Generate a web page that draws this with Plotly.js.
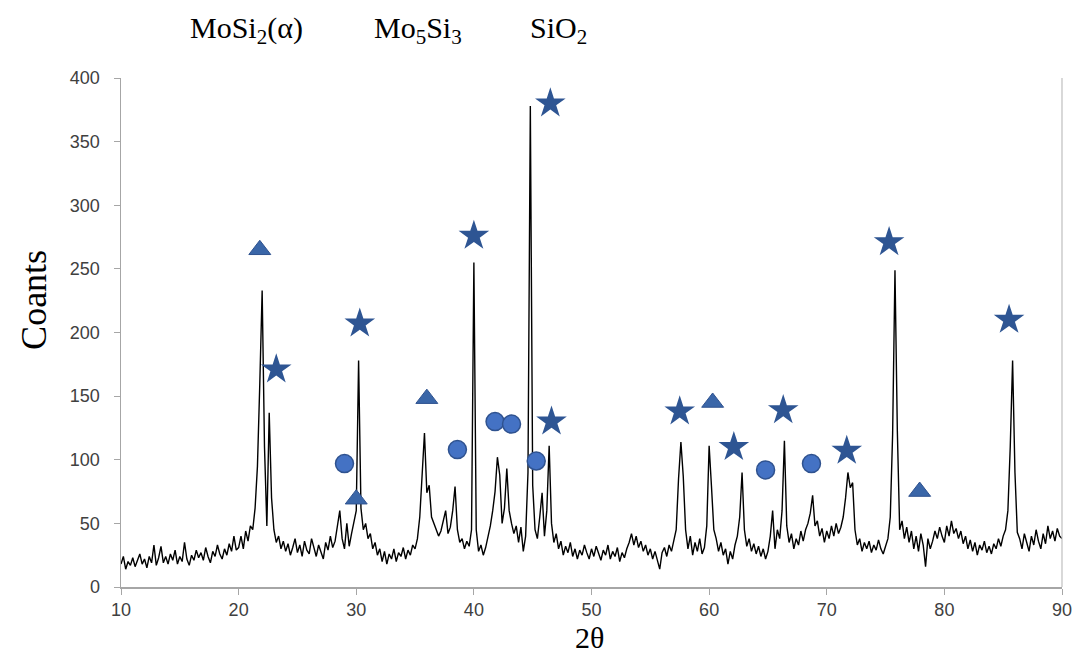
<!DOCTYPE html>
<html>
<head>
<meta charset="utf-8">
<script src="https://cdn.plot.ly/plotly-3.0.1.min.js"></script>
<style>html,body{margin:0;padding:0;background:#fff;}#chart{width:1078px;height:660px;}</style>
</head>
<body>
<div id="chart"></div>
<script>
// XRD scan: 2θ from 10 to 90 in 0.2° steps
const twoThetaStart = 10;
const twoThetaStep = 0.2;
const counts = [
  // 10.0 - 19.8
  18,24,14,20,17,23,16,21,26,18, 22,15,24,19,33,17,23,32,19,24,
  18,26,21,29,18,24,20,35,22,17, 25,21,29,23,27,21,31,24,19,28,
  24,33,26,22,30,25,34,28,40,29,
  // 20.0 - 29.8
  31,40,30,44,36,48,45,62,95,160, 233,110,48,137,70,45,35,40,30,36,
  28,34,25,31,38,27,33,24,36,29, 26,38,30,24,33,28,22,35,29,40,
  31,36,48,60,38,30,50,32,42,52,
  // 30.0 - 39.8
  60,178,62,45,50,38,42,30,35,25, 30,20,28,18,26,22,30,20,27,24,
  31,22,29,25,33,30,38,55,90,121, 74,80,55,50,45,40,44,52,60,42,
  47,60,79,45,35,38,30,36,32,45,
  // 40.0 - 49.8
  255,45,28,33,25,31,40,48,60,75, 102,88,50,62,93,60,50,42,48,35,
  47,28,40,90,378,80,45,38,55,74, 40,60,111,50,35,42,30,36,25,32,
  27,35,24,30,22,29,25,33,27,22,
  // 50.0 - 59.8
  30,24,32,26,21,29,25,33,22,28, 24,31,20,27,23,30,35,42,33,40,
  31,36,28,33,25,30,22,28,20,14, 27,31,24,33,28,36,45,85,114,87,
  45,30,40,25,35,28,38,26,31,48,
  // 60.0 - 69.8
  111,79,45,38,28,35,25,30,18,28, 22,33,40,55,90,45,32,38,28,34,
  26,32,24,30,22,28,40,60,30,45, 38,60,115,48,35,42,30,38,33,44,
  36,45,50,58,72,48,52,40,46,35,
  // 70.0 - 79.8
  44,38,48,40,50,42,47,55,70,90, 78,82,45,33,38,28,35,30,36,27,
  33,29,37,30,26,32,38,55,120,249, 123,45,52,38,47,35,44,30,40,28,
  42,33,16,38,30,36,44,38,47,40,
  // 80.0 - 90.0
  35,48,40,52,42,46,38,44,34,40, 30,37,28,35,25,33,29,36,27,32,
  26,34,30,38,32,40,45,60,110,178, 90,43,38,30,42,35,28,40,33,45,
  36,30,42,34,48,38,44,36,46,40, 38
];
const twoTheta = counts.map((_, i) => +(twoThetaStart + i * twoThetaStep).toFixed(1));

// Phase markers (2θ, counts)
const starX = [23.2, 30.3, 40.0, 46.5, 46.6, 57.5, 62.1, 66.3, 71.7, 75.3, 85.5];
const starY = [171, 207, 276, 380, 130, 138, 110, 139, 107, 271, 210];
const circleX = [29.0, 38.6, 41.8, 43.2, 45.3, 64.8, 68.7];
const circleY = [97, 108, 130, 128, 99, 92, 97];
const triX = [21.8, 30.0, 36.0, 60.3, 77.9];
const triY = [265, 69, 148, 145, 75];

const legendLabels = ['MoSi<sub>2</sub>(α)', 'Mo<sub>5</sub>Si<sub>3</sub>', 'SiO<sub>2</sub>'];
const legendPos = [0.133, 0.316, 0.465];
const xTicks = [10, 20, 30, 40, 50, 60, 70, 80, 90];
const yTicks = [0, 50, 100, 150, 200, 250, 300, 350, 400];

const traces = [
  {x: twoTheta, y: counts, type: 'scatter', mode: 'lines',
   line: {color: '#000000', width: 1.4}, showlegend: false, hoverinfo: 'x+y'},
  {x: starX, y: starY, type: 'scatter', mode: 'markers', showlegend: false,
   marker: {symbol: 'star', size: 23, color: '#2E5593', line: {width: 0}}},
  {x: circleX, y: circleY, type: 'scatter', mode: 'markers', showlegend: false,
   marker: {symbol: 'circle', size: 18, color: '#4472C4', line: {width: 1.5, color: '#2F528F'}}},
  {x: triX, y: triY, type: 'scatter', mode: 'markers', showlegend: false,
   marker: {symbol: 'triangle-up', size: 19, color: '#3A66A8', line: {width: 1, color: '#2F528F'}}}
];

const serif = 'Liberation Serif, Times New Roman, serif';
const tickFont = {family: 'Liberation Sans, Arial, sans-serif', size: 18, color: '#404040'};

const annotations = legendLabels.map((t, i) => ({
  text: t, xref: 'paper', yref: 'paper', x: legendPos[i], y: 1.094,
  xanchor: 'center', yanchor: 'middle', showarrow: false,
  font: {family: serif, size: 30, color: '#000'}
}));
annotations.push({text: 'Coants', xref: 'paper', yref: 'paper', x: -0.0925, y: 0.564,
  xanchor: 'center', yanchor: 'middle', textangle: -90, showarrow: false,
  font: {family: serif, size: 36, color: '#000'}});
annotations.push({text: '2θ', xref: 'paper', yref: 'paper', x: 0.498, y: -0.100,
  xanchor: 'center', yanchor: 'middle', showarrow: false,
  font: {family: serif, size: 30, color: '#000'}});

const layout = {
  width: 1078, height: 660,
  margin: {l: 121, r: 16, t: 78, b: 73},
  paper_bgcolor: '#ffffff', plot_bgcolor: '#ffffff',
  showlegend: false,
  xaxis: {
    range: [10, 90], tickvals: xTicks, ticktext: xTicks.map(String),
    showgrid: false, zeroline: false, showline: true, linecolor: '#A6A6A6', linewidth: 1.5,
    ticks: 'outside', ticklen: 6, tickcolor: '#A6A6A6', tickfont: tickFont
  },
  yaxis: {
    range: [0, 400], tickvals: yTicks, ticktext: yTicks.map(String),
    showgrid: false, zeroline: false, showline: true, linecolor: '#A6A6A6', linewidth: 1.5,
    ticks: 'outside', ticklen: 6, tickcolor: '#A6A6A6', tickfont: tickFont,
    ticklabelstandoff: 10
  },
  shapes: [
    {type: 'line', xref: 'paper', yref: 'paper', x0: 1, x1: 1, y0: 0, y1: 1,
     line: {color: '#BFBFBF', width: 1.2}}
  ],
  annotations: annotations
};

Plotly.newPlot('chart', traces, layout, {displayModeBar: false, staticPlot: true});
</script>
</body>
</html>
